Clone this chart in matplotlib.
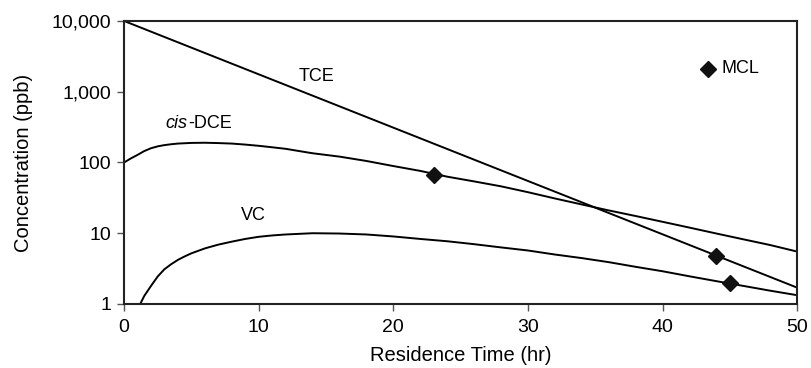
import matplotlib
matplotlib.use("Agg")
import matplotlib.pyplot as plt

plt.rcParams['font.family'] = ['Liberation Sans', 'DejaVu Sans']

# --- data ---
tce_hours = [0, 50]
tce_ppb = [10000, 1.7]

dce_hours = [0, 0.5, 1, 1.5, 2, 2.5, 3, 3.5, 4, 5, 6, 7, 8, 9, 10, 11, 12, 13, 14,
             16, 18, 20, 22, 24, 26, 28, 30, 32, 34, 36, 38, 40, 42, 44, 46, 48, 50]
dce_ppb = [100, 114, 128, 145, 159, 169, 176, 181, 185, 189, 190, 188, 185, 179,
           172, 164, 156, 145, 135, 121, 105, 89, 76, 63, 54, 46, 38, 31, 25.5, 21,
           17.5, 14.5, 12.0, 9.9, 8.2, 6.8, 5.5]

vc_hours = [1.2, 1.5, 2, 2.5, 3, 3.5, 4, 4.5, 5, 6, 7, 8, 9, 10, 11, 12, 14, 16, 18,
            20, 22, 24, 26, 28, 30, 32, 34, 36, 38, 40, 42, 44, 46, 48, 50]
vc_ppb = [1.0, 1.3, 1.8, 2.45, 3.1, 3.65, 4.2, 4.7, 5.2, 6.1, 6.9, 7.6, 8.3, 8.9,
          9.3, 9.6, 10.0, 9.9, 9.6, 9.0, 8.3, 7.7, 7.0, 6.3, 5.7, 5.0, 4.45, 3.9,
          3.35, 2.9, 2.46, 2.1, 1.8, 1.54, 1.33]

mcl_hours = [23, 44, 45]
mcl_ppb = [66, 4.8, 1.95]

x_ticks = [0, 10, 20, 30, 40, 50]
y_ticks = [1, 10, 100, 1000, 10000]
y_tick_labels = ['1', '10', '100', '1,000', '10,000']

# --- figure ---
fig = plt.figure(figsize=(8.11, 3.68), dpi=100)
ax = fig.add_axes([0.153, 0.174, 0.830, 0.769])

lw = 1.4
ax.plot(tce_hours, tce_ppb, color='black', lw=lw, solid_capstyle='butt')
ax.plot(dce_hours, dce_ppb, color='black', lw=lw, solid_joinstyle='round')
ax.plot(vc_hours, vc_ppb, color='black', lw=lw, solid_joinstyle='round')
ax.plot(mcl_hours, mcl_ppb, linestyle='none', marker='D', ms=8.5,
        color='#111111', zorder=5, clip_on=False)

# legend-like MCL marker and text
ax.plot([43.4], [2100], linestyle='none', marker='D', ms=8.5, color='#111111')
ax.text(44.4, 2100, 'MCL', fontsize=13, va='center', ha='left')

ax.text(13.0, 1660, 'TCE', fontsize=13, va='center', ha='left')
ax.text(8.7, 18, 'VC', fontsize=13, va='center', ha='left')
t1 = ax.text(3.1, 350, 'cis', fontsize=13, va='center', ha='left', style='italic')
ax.annotate('-DCE', xycoords=t1, xy=(1, 0.5), va='center', ha='left', fontsize=13)

ax.set_yscale('log')
ax.set_xlim(0, 50)
ax.set_ylim(1, 10000)
ax.set_xticks(x_ticks)
ax.set_xticklabels([str(v) for v in x_ticks])
ax.set_yticks(y_ticks)
ax.set_yticklabels(y_tick_labels)
ax.minorticks_off()
ax.tick_params(axis='both', direction='out', length=5, width=1, color='#555555',
               labelsize=14, pad=4)
ax.tick_params(axis='x', pad=6)

for s in ax.spines.values():
    s.set_linewidth(1.5)
    s.set_color('#222222')

ax.set_xlabel('Residence Time (hr)', fontsize=14.5, labelpad=7)
ax.set_ylabel('Concentration (ppb)', fontsize=14.5, labelpad=14)

fig.savefig('out.png', dpi=100)
